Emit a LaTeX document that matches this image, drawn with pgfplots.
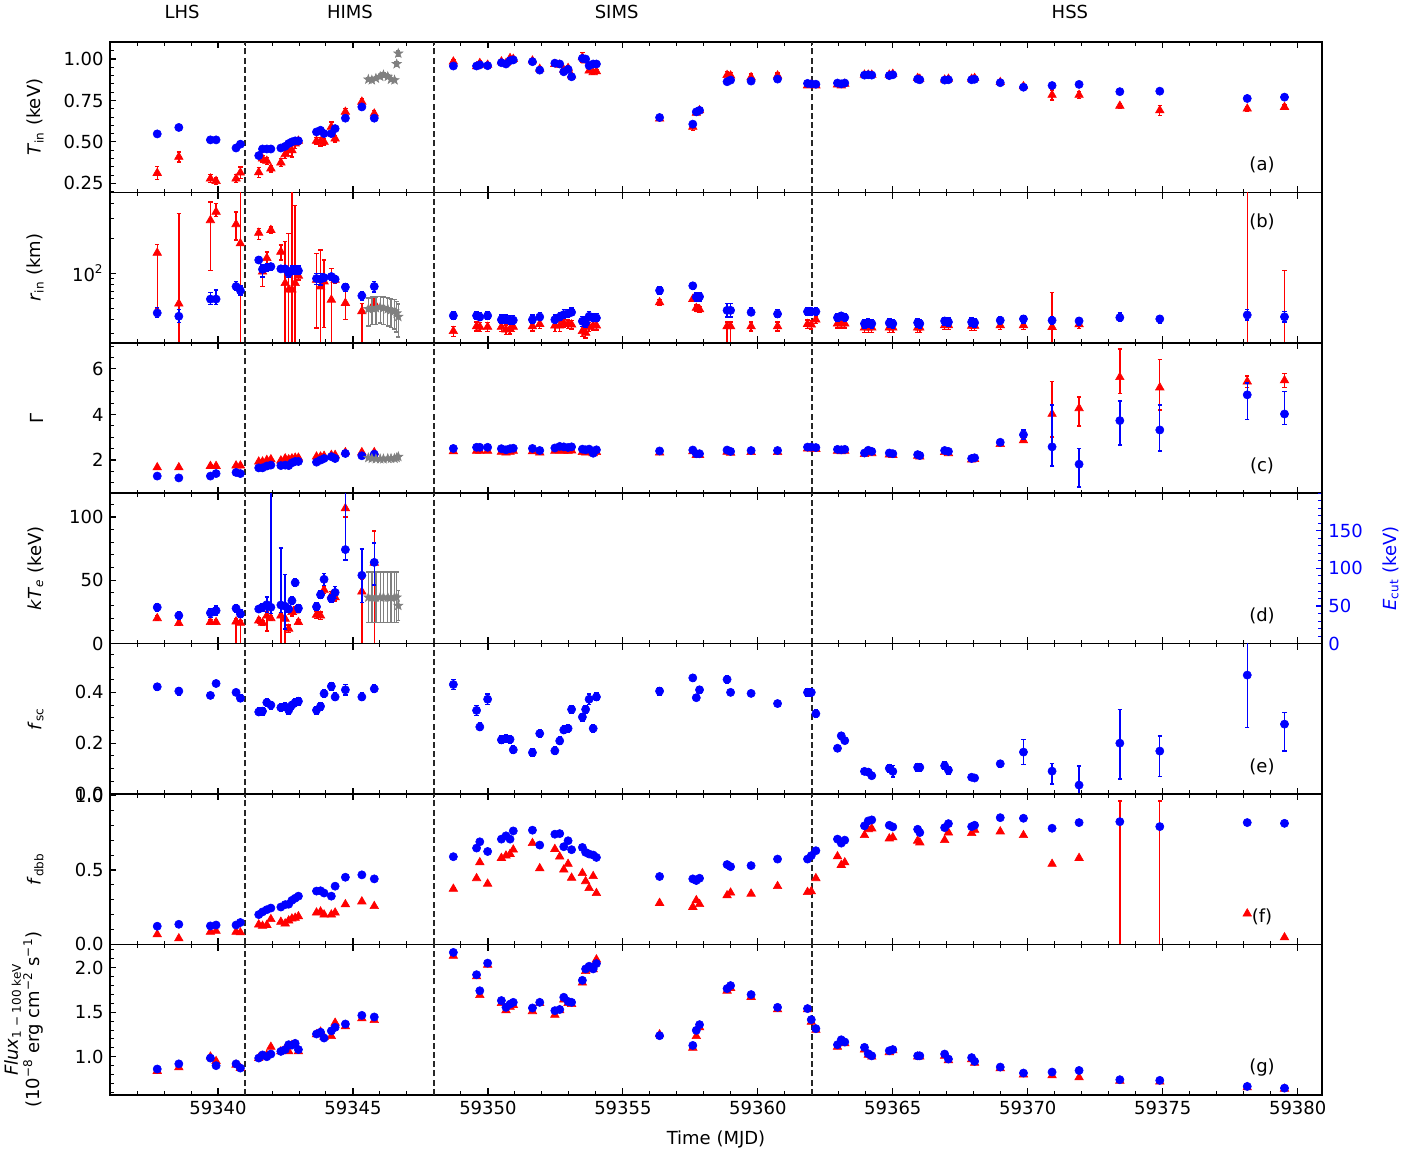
\documentclass[border=0pt]{standalone}
\usepackage{fontspec}
\setmainfont{DejaVu Sans}
\usepackage{pgfplots}
\usepackage{pgfplotstable}
\pgfplotsset{compat=1.18}

\pgfdeclareplotmark{fstar}{%
  \pgfpathmoveto{\pgfpointpolar{90}{\pgfplotmarksize}}%
  \pgfpathlineto{\pgfpointpolar{126}{0.4*\pgfplotmarksize}}%
  \pgfpathlineto{\pgfpointpolar{162}{\pgfplotmarksize}}%
  \pgfpathlineto{\pgfpointpolar{198}{0.4*\pgfplotmarksize}}%
  \pgfpathlineto{\pgfpointpolar{234}{\pgfplotmarksize}}%
  \pgfpathlineto{\pgfpointpolar{270}{0.4*\pgfplotmarksize}}%
  \pgfpathlineto{\pgfpointpolar{306}{\pgfplotmarksize}}%
  \pgfpathlineto{\pgfpointpolar{342}{0.4*\pgfplotmarksize}}%
  \pgfpathlineto{\pgfpointpolar{18}{\pgfplotmarksize}}%
  \pgfpathlineto{\pgfpointpolar{54}{0.4*\pgfplotmarksize}}%
  \pgfpathclose
  \pgfusepathqfillstroke}

% blue: t a ae b bp bm c cp cm d dp dm e ep em f fe g ge
\pgfplotstableread{
t a ae b bp bm c cp cm d dp dm e ep em f fe g ge
59337.75 0.548 0.010 45.3 5 4 1.30 0.06 0.06 48.3 5 5 0.422 0.012 0.012 0.122 0.008 0.862 0.010
59338.55 0.587 0.010 42.4 6 5 1.22 0.06 0.06 37.3 5 5 0.405 0.015 0.015 0.135 0.008 0.920 0.010
59339.72 0.512 0.008 59.7 8 6 1.30 0.06 0.06 40.8 6 6 0.388 0.012 0.012 0.124 0.008 0.985 0.010
59339.93 0.512 0.008 59.7 12 6 1.41 0.06 0.06 43.9 6 6 0.435 0.012 0.012 0.130 0.008 0.900 0.010
59340.67 0.463 0.008 76.7 8 6 1.46 0.06 0.06 46.9 5 5 0.400 0.012 0.012 0.130 0.008 0.920 0.010
59340.83 0.486 0.008 70.8 7 6 1.41 0.06 0.06 39.5 5 5 0.377 0.012 0.012 0.147 0.008 0.873 0.010
59341.51 0.417 0.008 130 8 8 1.66 0.06 0.06 46.0 5 5 0.323 0.015 0.015 0.200 0.008 0.985 0.010
59341.65 0.457 0.008 108 10 15 1.66 0.06 0.06 48.3 5 5 0.326 0.015 0.015 0.218 0.008 1.020 0.010
59341.81 0.457 0.008 112 8 8 1.74 0.06 0.06 51.7 10 10 0.360 0.015 0.015 0.233 0.008 1.000 0.010
59341.96 0.457 0.008 114 8 8 1.78 0.06 0.06 48.3 200 8 0.350 0.015 0.015 0.244 0.008 1.030 0.010
59342.33 0.463 0.008 109 6 6 1.76 0.06 0.06 51.3 76 10 0.340 0.015 0.015 0.251 0.008 1.060 0.010
59342.49 0.473 0.008 109 6 6 1.78 0.06 0.06 49.6 42 30 0.343 0.015 0.015 0.267 0.008 1.080 0.010
59342.62 0.490 0.008 100 8 8 1.76 0.06 0.06 46.0 5 5 0.330 0.015 0.015 0.270 0.008 1.135 0.010
59342.74 0.500 0.008 105 10 8 1.88 0.06 0.06 57.0 5 5 0.350 0.015 0.015 0.296 0.008 1.130 0.010
59342.86 0.506 0.008 105 10 8 1.94 0.06 0.06 81.0 5 5 0.360 0.015 0.015 0.310 0.008 1.150 0.010
59342.98 0.506 0.008 105 10 8 1.94 0.06 0.06 47.0 5 5 0.365 0.015 0.015 0.324 0.008 1.080 0.010
59343.65 0.560 0.010 89.9 10 10 1.91 0.06 0.06 49.0 5 5 0.330 0.015 0.015 0.358 0.008 1.255 0.010
59343.80 0.570 0.010 88.8 10 10 2.00 0.06 0.06 65.0 5 5 0.345 0.015 0.015 0.360 0.008 1.275 0.010
59343.93 0.550 0.010 91.7 6 6 2.07 0.06 0.06 85.5 8 8 0.395 0.015 0.015 0.345 0.008 1.210 0.010
59344.20 0.550 0.010 93.5 6 6 2.15 0.06 0.06 60.0 5 5 0.424 0.015 0.015 0.324 0.008 1.290 0.010
59344.34 0.580 0.010 88.8 6 6 2.07 0.06 0.06 68.0 8 8 0.382 0.015 0.015 0.391 0.008 1.330 0.010
59344.72 0.643 0.010 75.8 6 6 2.29 0.06 0.06 125 80 14 0.410 0.020 0.020 0.451 0.008 1.367 0.010
59345.33 0.711 0.010 63.8 5 5 2.19 0.06 0.06 90.8 35 36 0.382 0.015 0.015 0.467 0.008 1.464 0.010
59345.79 0.643 0.010 76.7 8 8 2.26 0.06 0.06 108 26 30 0.414 0.015 0.015 0.440 0.008 1.446 0.010
59348.72 0.958 0.012 42.9 4 3 2.51 0.06 0.06 nan 0 0 0.431 0.020 0.020 0.589 0.008 2.170 0.010
59349.58 0.958 0.012 42.9 4 3 2.56 0.06 0.06 nan 0 0 0.329 0.020 0.020 0.647 0.008 1.920 0.010
59349.70 0.965 0.012 41.8 4 3 2.56 0.06 0.06 nan 0 0 0.264 0.015 0.015 0.689 0.008 1.740 0.010
59349.99 0.960 0.012 42.9 4 3 2.56 0.06 0.06 nan 0 0 0.373 0.020 0.020 0.624 0.008 2.050 0.010
59350.50 0.978 0.012 39.6 4 3 2.50 0.06 0.06 nan 0 0 0.213 0.015 0.015 0.707 0.008 1.630 0.010
59350.67 0.970 0.012 39.6 4 3 2.45 0.06 0.06 nan 0 0 0.218 0.015 0.015 0.729 0.008 1.554 0.010
59350.82 0.990 0.012 39.2 4 3 2.50 0.06 0.06 nan 0 0 0.215 0.015 0.015 0.707 0.008 1.590 0.010
59350.94 0.995 0.012 39.2 4 3 2.52 0.06 0.06 nan 0 0 0.174 0.015 0.015 0.762 0.008 1.610 0.010
59351.65 0.984 0.012 39.6 4 3 2.51 0.06 0.06 nan 0 0 0.163 0.015 0.015 0.767 0.008 1.547 0.010
59351.92 0.933 0.012 41.8 4 3 2.42 0.06 0.06 nan 0 0 0.238 0.015 0.015 0.667 0.008 1.610 0.010
59352.48 0.975 0.012 39.6 4 3 2.53 0.06 0.06 nan 0 0 0.170 0.015 0.015 0.740 0.008 1.517 0.010
59352.66 0.970 0.012 41.8 4 3 2.60 0.06 0.06 nan 0 0 0.209 0.015 0.015 0.744 0.008 1.530 0.010
59352.81 0.923 0.012 43.8 5 3 2.58 0.06 0.06 nan 0 0 0.252 0.015 0.015 0.656 0.008 1.667 0.010
59352.97 0.938 0.012 44.7 4 3 2.55 0.06 0.06 nan 0 0 0.258 0.015 0.015 0.696 0.008 1.620 0.010
59353.10 0.893 0.012 45.9 4 3 2.58 0.06 0.06 nan 0 0 0.333 0.015 0.015 0.636 0.008 1.610 0.010
59353.50 1.004 0.015 38.4 4 4 2.48 0.06 0.06 nan 0 0 0.303 0.015 0.015 0.651 0.008 1.857 0.010
59353.62 1.000 0.012 37.1 4 3 2.45 0.06 0.06 nan 0 0 0.333 0.015 0.015 0.618 0.008 1.985 0.010
59353.75 0.960 0.012 42.4 4 3 2.48 0.06 0.06 nan 0 0 0.373 0.020 0.020 0.607 0.008 2.015 0.010
59353.90 0.970 0.012 41.0 4 3 2.30 0.06 0.06 nan 0 0 0.258 0.015 0.015 0.600 0.008 1.985 0.010
59354.02 0.970 0.012 41.0 4 3 2.45 0.06 0.06 nan 0 0 0.382 0.015 0.015 0.584 0.008 2.045 0.010
59356.36 0.647 0.010 70.9 5 5 2.40 0.06 0.06 nan 0 0 0.405 0.015 0.015 0.456 0.008 1.236 0.010
59357.59 0.607 0.012 77.8 5 5 2.44 0.06 0.06 nan 0 0 0.457 0.012 0.012 0.440 0.008 1.127 0.010
59357.72 0.681 0.010 62.2 5 5 2.28 0.06 0.06 nan 0 0 0.379 0.012 0.012 0.429 0.008 1.296 0.010
59357.84 0.690 0.010 62.6 5 5 2.28 0.06 0.06 nan 0 0 0.410 0.012 0.012 0.444 0.008 1.360 0.010
59358.86 0.863 0.010 47.7 7 6 2.44 0.06 0.06 nan 0 0 0.451 0.015 0.015 0.536 0.008 1.764 0.010
59358.99 0.873 0.010 47.7 7 6 2.38 0.06 0.06 nan 0 0 0.400 0.012 0.012 0.522 0.008 1.798 0.010
59359.75 0.867 0.010 45.9 4 3 2.42 0.06 0.06 nan 0 0 0.396 0.012 0.012 0.529 0.008 1.697 0.010
59360.73 0.879 0.010 44.4 4 3 2.42 0.06 0.06 nan 0 0 0.356 0.012 0.012 0.573 0.008 1.554 0.010
59361.84 0.853 0.010 46.5 4 3 2.57 0.06 0.06 nan 0 0 0.400 0.015 0.015 0.573 0.008 1.540 0.010
59361.98 0.850 0.010 46.5 4 3 2.57 0.06 0.06 nan 0 0 0.400 0.015 0.015 0.596 0.008 1.416 0.010
59362.15 0.848 0.010 46.5 4 3 2.55 0.06 0.06 nan 0 0 0.316 0.015 0.015 0.629 0.008 1.315 0.010
59362.95 0.855 0.008 41.3 3 3 2.47 0.06 0.06 nan 0 0 0.180 0.010 0.010 0.707 0.008 1.135 0.010
59363.09 0.850 0.008 42.7 3 3 2.45 0.06 0.06 nan 0 0 0.229 0.012 0.012 0.680 0.008 1.190 0.010
59363.22 0.855 0.008 41.3 3 3 2.47 0.06 0.06 nan 0 0 0.210 0.012 0.012 0.700 0.008 1.165 0.010
59363.95 0.903 0.008 36.6 3 3 2.31 0.06 0.06 nan 0 0 0.089 0.012 0.012 0.796 0.008 1.105 0.010
59364.09 0.905 0.008 37.3 3 3 2.43 0.06 0.06 nan 0 0 0.086 0.012 0.012 0.829 0.008 1.034 0.010
59364.22 0.903 0.008 36.6 3 3 2.38 0.06 0.06 nan 0 0 0.072 0.012 0.012 0.836 0.008 1.010 0.010
59364.87 0.900 0.008 37.1 3 3 2.31 0.06 0.06 nan 0 0 0.101 0.015 0.015 0.800 0.008 1.067 0.010
59365.00 0.905 0.008 36.6 3 3 2.28 0.06 0.06 nan 0 0 0.089 0.022 0.022 0.789 0.008 1.080 0.010
59365.92 0.879 0.008 37.3 3 3 2.24 0.06 0.06 nan 0 0 0.105 0.015 0.015 0.773 0.008 1.010 0.010
59366.00 0.875 0.008 36.6 3 3 2.20 0.06 0.06 nan 0 0 0.105 0.015 0.015 0.751 0.008 1.010 0.010
59366.92 0.873 0.008 38.6 3 3 2.42 0.06 0.06 nan 0 0 0.111 0.015 0.015 0.784 0.008 1.030 0.010
59367.06 0.875 0.008 37.8 3 3 2.38 0.06 0.06 nan 0 0 0.094 0.015 0.015 0.811 0.008 0.974 0.010
59367.92 0.875 0.008 37.8 3 3 2.07 0.06 0.06 nan 0 0 0.066 0.010 0.010 0.791 0.008 0.990 0.010
59368.03 0.878 0.008 37.3 3 3 2.10 0.06 0.06 nan 0 0 0.063 0.010 0.010 0.800 0.008 0.948 0.010
59368.98 0.857 0.008 39.1 3 3 2.78 0.10 0.10 nan 0 0 0.119 0.012 0.012 0.851 0.008 0.884 0.010
59369.84 0.830 0.008 40.2 3 3 3.11 0.20 0.20 nan 0 0 0.165 0.050 0.050 0.847 0.008 0.817 0.010
59370.90 0.840 0.008 39.1 3 3 2.58 1.84 0.84 nan 0 0 0.090 0.030 0.050 0.780 0.008 0.828 0.010
59371.90 0.847 0.008 38.6 3 3 1.82 0.69 0.99 nan 0 0 0.035 0.075 0.035 0.818 0.008 0.846 0.010
59373.41 0.803 0.008 41.3 4 3 3.73 0.86 1.07 nan 0 0 0.200 0.133 0.141 0.824 0.008 0.742 0.010
59374.89 0.806 0.008 40.2 3 3 3.32 1.10 0.92 nan 0 0 0.169 0.060 0.100 0.791 0.008 0.735 0.010
59378.13 0.762 0.008 43.5 5 4 4.86 0.51 1.07 nan 0 0 0.468 0.130 0.207 0.818 0.008 0.667 0.010
59379.51 0.770 0.008 41.9 5 4 4.02 0.98 0.45 nan 0 0 0.275 0.045 0.105 0.813 0.008 0.648 0.010
}\blueT

% red: t a ae b bp bm c cp cm d dp dm f fe g ge
\pgfplotstableread{
t a ae b bp bm c cp cm d dp dm f fe g ge
59337.75 0.312 0.040 150 28 100 1.68 0.05 0.05 20.0 2 2 0.067 0.005 0.840 0.010
59338.55 0.409 0.030 54.5 274 44.5 1.68 0.05 0.05 16.1 2 2 0.040 0.005 0.880 0.010
59339.72 0.278 0.025 287 126 182 1.74 0.05 0.05 16.9 2 2 0.084 0.005 1.000 0.010
59339.93 0.263 0.020 339 63 30 1.74 0.05 0.05 16.9 2 2 0.090 0.005 0.950 0.010
59340.67 0.278 0.025 265 74 72 1.76 0.05 0.05 17.4 2 17.4 0.084 0.005 0.910 0.010
59340.83 0.314 0.035 181 800 171 1.76 0.05 0.05 16.4 2 16.4 0.080 0.005 0.873 0.010
59341.51 0.316 0.030 223 21 27 1.93 0.05 0.05 18.2 2 2 0.133 0.005 0.985 0.010
59341.65 0.399 0.020 103 7 26 1.93 0.05 0.05 16.4 2 2 0.124 0.005 1.000 0.010
59341.81 0.385 0.020 135 18 17 2.00 0.05 0.05 22.0 3 12 0.130 0.005 1.020 0.010
59341.96 0.339 0.020 236 14 14 2.03 0.05 0.05 20.0 2 2 0.169 0.005 1.110 0.010
59342.33 0.375 0.025 153 22 23 1.98 0.05 0.05 22.0 2 22 0.151 0.005 1.060 0.010
59342.49 0.425 0.025 82 105 72 2.07 0.05 0.05 19.5 2 19.5 0.140 0.005 1.090 0.010
59342.62 0.449 0.030 72 149 62 2.03 0.05 0.05 11.7 3 3 0.160 0.005 1.060 0.010
59342.74 0.449 0.040 72 600 62 2.07 0.05 0.05 24.8 3 3 0.173 0.005 1.130 0.010
59342.86 0.490 0.030 82 304 72 2.10 0.05 0.05 26.0 3 3 0.178 0.005 1.140 0.010
59342.98 0.506 0.020 95 8 8 2.10 0.05 0.05 16.9 2 2 0.188 0.005 1.060 0.010
59343.65 0.506 0.020 87.5 61 54 2.15 0.05 0.05 22.7 3 3 0.213 0.005 1.250 0.010
59343.80 0.500 0.025 76.7 82 66.7 2.15 0.05 0.05 22.0 3 3 0.220 0.005 1.280 0.010
59343.93 0.500 0.020 84.7 45 51 2.18 0.05 0.05 42.4 3 3 0.200 0.005 1.220 0.010
59344.20 0.590 0.030 58.9 51 48.9 2.22 0.05 0.05 38.0 3 3 0.200 0.005 1.230 0.010
59344.34 0.520 0.020 87.5 5 5 2.22 0.05 0.05 36.5 3 3 0.213 0.005 1.380 0.010
59344.72 0.681 0.020 55.2 14 15.6 2.34 0.05 0.05 106.8 15 7 0.269 0.005 1.340 0.010
59345.33 0.742 0.020 46.8 8 36.8 2.34 0.05 0.05 41.0 10 41 0.288 0.005 1.430 0.010
59345.79 0.670 0.020 55.2 5 5 2.34 0.05 0.05 63.8 25 63.8 0.257 0.005 1.410 0.010
59348.72 0.984 0.015 31.5 3 3 2.38 0.05 0.05 nan 0 0 0.373 0.005 2.130 0.010
59349.58 0.955 0.012 34.7 3 3 2.40 0.05 0.05 nan 0 0 0.444 0.005 1.900 0.010
59349.70 0.975 0.012 34.3 3 3 2.40 0.05 0.05 nan 0 0 0.551 0.005 1.690 0.010
59349.99 0.965 0.012 34.3 3 3 2.40 0.05 0.05 nan 0 0 0.407 0.005 2.030 0.010
59350.50 0.985 0.012 34.3 3 3 2.36 0.05 0.05 nan 0 0 0.580 0.005 1.600 0.010
59350.67 0.975 0.012 32.5 3 3 2.33 0.05 0.05 nan 0 0 0.596 0.005 1.520 0.010
59350.82 1.005 0.012 32.9 3 3 2.36 0.05 0.05 nan 0 0 0.607 0.005 1.560 0.010
59350.94 1.000 0.012 34.3 3 3 2.40 0.05 0.05 nan 0 0 0.636 0.005 1.580 0.010
59351.65 0.990 0.012 34.7 3 3 2.38 0.05 0.05 nan 0 0 0.680 0.005 1.510 0.010
59351.92 0.940 0.012 36.3 3 3 2.33 0.05 0.05 nan 0 0 0.511 0.005 1.600 0.010
59352.48 0.970 0.012 35.2 3 4 2.40 0.05 0.05 nan 0 0 0.640 0.005 1.470 0.010
59352.66 0.965 0.012 35.2 3 4 2.42 0.05 0.05 nan 0 0 0.589 0.005 1.520 0.010
59352.81 0.935 0.012 37.1 3 3 2.40 0.05 0.05 nan 0 0 0.502 0.005 1.640 0.010
59352.97 0.945 0.012 36.3 3 3 2.40 0.05 0.05 nan 0 0 0.540 0.005 1.600 0.010
59353.10 0.900 0.012 35.9 3 3 2.42 0.05 0.05 nan 0 0 0.447 0.005 1.590 0.010
59353.50 1.010 0.030 31.5 3 3 2.35 0.05 0.05 nan 0 0 0.478 0.005 1.830 0.010
59353.62 0.990 0.012 30.5 3 3 2.33 0.05 0.05 nan 0 0 0.424 0.005 1.960 0.010
59353.75 0.930 0.012 34.3 3 3 2.35 0.05 0.05 nan 0 0 0.378 0.005 1.990 0.010
59353.90 0.920 0.012 35.2 3 3 2.30 0.05 0.05 nan 0 0 0.458 0.005 1.980 0.010
59354.02 0.925 0.012 35.2 3 3 2.35 0.05 0.05 nan 0 0 0.344 0.005 2.090 0.010
59356.36 0.640 0.010 55.9 3 3 2.33 0.05 0.05 nan 0 0 0.278 0.005 1.250 0.010
59357.59 0.590 0.020 59.7 3 3 2.38 0.05 0.05 nan 0 0 0.251 0.005 1.100 0.010
59357.72 0.675 0.010 50.0 3 3 2.22 0.05 0.05 nan 0 0 0.296 0.005 1.230 0.010
59357.84 0.690 0.010 48.7 3 3 2.22 0.05 0.05 nan 0 0 0.270 0.005 1.330 0.010
59358.86 0.903 0.020 34.7 3 24.7 2.36 0.05 0.05 nan 0 0 0.329 0.005 1.740 0.010
59358.99 0.900 0.020 34.7 3 24.7 2.32 0.05 0.05 nan 0 0 0.347 0.005 1.770 0.010
59359.75 0.890 0.020 34.7 3 3 2.35 0.05 0.05 nan 0 0 0.340 0.005 1.670 0.010
59360.73 0.900 0.015 34.7 3 3 2.35 0.05 0.05 nan 0 0 0.391 0.005 1.530 0.010
59361.84 0.840 0.010 36.3 3 3 2.50 0.05 0.05 nan 0 0 0.351 0.005 1.530 0.010
59361.98 0.845 0.010 35.9 3 3 2.50 0.05 0.05 nan 0 0 0.356 0.005 1.390 0.010
59362.15 0.840 0.010 39.6 3 3 2.48 0.05 0.05 nan 0 0 0.444 0.005 1.300 0.010
59362.95 0.845 0.010 36.6 3 3 2.40 0.05 0.05 nan 0 0 0.591 0.005 1.110 0.010
59363.09 0.840 0.010 36.6 3 3 2.38 0.05 0.05 nan 0 0 0.533 0.005 1.170 0.010
59363.22 0.850 0.010 36.6 3 3 2.40 0.05 0.05 nan 0 0 0.550 0.005 1.150 0.010
59363.95 0.905 0.010 33.8 3 3 2.26 0.05 0.05 nan 0 0 0.733 0.005 1.080 0.010
59364.09 0.905 0.010 33.8 3 3 2.36 0.05 0.05 nan 0 0 0.773 0.005 1.020 0.010
59364.22 0.905 0.010 33.8 3 3 2.30 0.05 0.05 nan 0 0 0.778 0.005 1.000 0.010
59364.87 0.905 0.010 33.8 3 3 2.24 0.05 0.05 nan 0 0 0.711 0.005 1.050 0.010
59365.00 0.910 0.010 33.8 3 3 2.22 0.05 0.05 nan 0 0 0.718 0.005 1.070 0.010
59365.92 0.885 0.010 33.8 3 3 2.18 0.05 0.05 nan 0 0 0.696 0.005 1.000 0.010
59366.00 0.880 0.010 33.8 3 3 2.15 0.05 0.05 nan 0 0 0.684 0.005 1.000 0.010
59366.92 0.875 0.010 35.4 3 3 2.35 0.05 0.05 nan 0 0 0.700 0.005 1.010 0.010
59367.06 0.880 0.010 35.4 3 3 2.30 0.05 0.05 nan 0 0 0.751 0.005 0.960 0.010
59367.92 0.880 0.010 35.0 3 3 2.02 0.05 0.05 nan 0 0 0.747 0.005 0.970 0.010
59368.03 0.885 0.010 35.0 3 3 2.04 0.05 0.05 nan 0 0 0.769 0.005 0.930 0.010
59368.98 0.860 0.010 35.4 3 3 2.70 0.08 0.08 nan 0 0 0.758 0.005 0.870 0.010
59369.84 0.835 0.010 35.4 3 3 2.86 0.10 0.10 nan 0 0 0.733 0.005 0.800 0.010
59370.90 0.783 0.030 34.2 34 24.2 4.02 1.42 1.00 nan 0 0 0.540 0.005 0.790 0.010
59371.90 0.783 0.020 36.1 3 3 4.27 0.49 0.78 nan 0 0 0.580 0.005 0.768 0.010
59373.41 0.717 0.015 nan 0 0 5.63 1.24 0.70 nan 0 0 nan 0 0.730 0.010
59374.89 0.690 0.030 nan 0 0 5.18 1.22 0.98 nan 0 0 nan 0 0.720 0.010
59378.13 0.700 0.015 nan 0 0 5.44 0.25 0.25 nan 0 0 0.207 0.005 0.655 0.010
59379.51 0.710 0.015 nan 0 0 5.49 0.30 0.30 nan 0 0 0.047 0.005 0.640 0.010
}\redT

% gray: t a ae b bp bm c ce d de
\pgfplotstableread{
t a ae b bp bm c ce d de
59345.57 0.877 0.010 49 12 14 2.10 0.05 36.5 20
59345.70 0.873 0.010 50 12 14 2.07 0.05 36.5 20
59345.85 0.883 0.010 50 12 14 2.05 0.05 36.5 20
59346.01 0.894 0.012 51 12 14 2.05 0.05 36.5 20
59346.13 0.904 0.012 50 12 14 2.05 0.05 36.5 20
59346.29 0.894 0.010 49 12 14 2.07 0.05 36.5 20
59346.41 0.877 0.010 48 12 14 2.07 0.05 36.5 20
59346.54 0.873 0.010 47 12 14 2.07 0.05 36.5 20
59346.62 0.970 0.015 45 12 14 2.10 0.05 36.5 20
59346.68 1.034 0.015 42 12 14 2.15 0.05 30.0 12
}\grayT

\pgfplotsset{
  errb/.style={error bars/y dir=both, error bars/y explicit,
    error bars/error bar style={line width=0.7pt,#1},
    error bars/error mark options={rotate=90,mark size=1.1pt,line width=0.7pt,#1}},
  bl/.style={only marks, mark=*, mark size=2.05pt, color=blue,
    mark options={solid, fill=blue, draw=blue, line width=0.3pt}, errb=blue},
  rd/.style={only marks, mark=triangle*, mark size=2.45pt, color=red,
    mark options={solid, fill=red, draw=red, line width=0.3pt}, errb=red},
  gy/.style={only marks, mark=fstar, mark size=2.4pt, color=gray,
    mark options={solid, fill=gray, draw=gray, line width=0.3pt}, errb=gray},
  vbar/.style={draw=#1, color=#1, line width=0.7pt, mark=-, mark size=1.1pt,
    mark options={draw=#1, rotate=0}},
  pan/.style={
    scale only axis, width=606pt, height=75.2pt,
    xmin=59336.0, xmax=59380.9,
    scaled x ticks=false, scaled y ticks=false,
    xtick={59340,59345,59350,59355,59360,59365,59370,59375,59380},
    minor xtick={59336,59337,59338,59339,59341,59342,59343,59344,59346,59347,59348,59349,59351,59352,59353,59354,59356,59357,59358,59359,59361,59362,59363,59364,59366,59367,59368,59369,59371,59372,59373,59374,59376,59377,59378,59379},
    xticklabels={},
    xtick pos=both, ytick pos=left,
    tick align=inside,
    major tick length=3.2pt, minor tick length=1.8pt,
    tick style={black, line width=0.6pt},
    minor tick style={black, line width=0.45pt},
    axis line style={line width=0.75pt},
    extra x ticks={59341,59348,59362},
    extra x tick labels={},
    extra x tick style={grid=major, major tick length=0pt,
      major grid style={black!85, line width=0.7pt, dash pattern=on 3pt off 1.6pt}},
    clip mode=individual,
    clip marker paths=true,
    every axis y label/.style={at={(axis description cs:-0.0495,0.5)}, anchor=south, rotate=90, align=center},
  },
}

\begin{document}
\fontsize{9}{11}\selectfont
\begin{tikzpicture}
\path[use as bounding box] (-55pt,-30.5pt) rectangle (656pt,547.4pt);

% (a)
\begin{axis}[pan, at={(0,451.2pt)}, ymin=0.195, ymax=1.103,
  ytick={0.25,0.5,0.75,1}, yticklabels={0.25,0.50,0.75,1.00},
  minor ytick={0.2,0.25,...,1.1},
  ylabel={\textit{T}\textsubscript{in} (keV)}]
\addplot[rd] table[x=t,y=a,y error=ae] {\redT};
\addplot[bl] table[x=t,y=a,y error=ae] {\blueT};
\addplot[gy] table[x=t,y=a,y error=ae] {\grayT};
\node at (rel axis cs:0.9505,0.18) {(a)};
\node at (rel axis cs:0.0594,1.2) {LHS};
\node at (rel axis cs:0.198,1.2) {HIMS};
\node at (rel axis cs:0.418,1.2) {SIMS};
\node at (rel axis cs:0.792,1.2) {HSS};
\end{axis}

% (b)
\begin{axis}[pan, at={(0,376pt)}, ymode=log, ymin=25, ymax=500,
  ytick={100}, yticklabels={10\textsuperscript{2}},
  minor ytick={30,40,50,60,70,80,90,200,300,400},
  ylabel={\textit{r}\textsubscript{in} (km)}]
\addplot[rd] table[x=t,y=b,y error plus=bp,y error minus=bm] {\redT};
\addplot[vbar=red] coordinates {(59378.13,10) (59378.13,1000)};
\addplot[vbar=red] coordinates {(59379.51,10) (59379.51,106)};
\addplot[bl] table[x=t,y=b,y error plus=bp,y error minus=bm] {\blueT};
\addplot[gy] table[x=t,y=b,y error plus=bp,y error minus=bm] {\grayT};
\node at (rel axis cs:0.9505,0.805) {(b)};
\end{axis}

% (c)
\begin{axis}[pan, at={(0,300.8pt)}, ymin=0.55, ymax=7.14,
  ytick={2,4,6}, yticklabels={2,4,6},
  minor ytick={1,1.5,...,7},
  ylabel={Γ}]
\addplot[rd] table[x=t,y=c,y error plus=cp,y error minus=cm] {\redT};
\addplot[bl] table[x=t,y=c,y error plus=cp,y error minus=cm] {\blueT};
\addplot[gy] table[x=t,y=c,y error=ce] {\grayT};
\node at (rel axis cs:0.9505,0.18) {(c)};
\end{axis}

% (d) left
\begin{axis}[pan, at={(0,225.6pt)}, ymin=0, ymax=118.75,
  ytick={0,50,100}, yticklabels={0,50,100},
  minor ytick={0,10,...,110},
  ylabel={\textit{kT}\textsubscript{\textit{e}} (keV)}]
\addplot[rd] table[x=t,y=d,y error plus=dp,y error minus=dm] {\redT};
\addplot[gy] table[x=t,y=d,y error=de] {\grayT};
\node at (rel axis cs:0.9505,0.186) {(d)};
\end{axis}
% (d) right
\begin{axis}[scale only axis, width=606pt, height=75.2pt, at={(0,225.6pt)},
  xmin=59336.0, xmax=59380.9, ymin=0, ymax=200,
  scaled x ticks=false, scaled y ticks=false,
  axis x line=none, axis y line=right,
  axis line style={-, line width=0.75pt},
  ytick={0,50,100,150}, yticklabels={0,50,100,150},
  minor ytick={0,10,...,200},
  ytick pos=right, yticklabel pos=right,
  tick align=inside,
  major tick length=3.2pt, minor tick length=1.8pt,
  tick style={blue, line width=0.6pt},
  minor tick style={blue, line width=0.45pt},
  yticklabel style={blue},
  clip mode=individual, clip marker paths=true,
  every axis y label/.style={at={(axis description cs:1.0446,0.5)}, anchor=north, rotate=90},
  ylabel={\textcolor{blue}{\textit{E}\textsubscript{cut} (keV)}}]
\addplot[bl] table[x=t,y=d,y error plus=dp,y error minus=dm] {\blueT};
\end{axis}

% (e)
\begin{axis}[pan, at={(0,150.4pt)}, ymin=0, ymax=0.592,
  ytick={0,0.2,0.4}, yticklabels={0.0,0.2,0.4},
  minor ytick={0,0.05,...,0.56},
  ylabel={\textit{f}\textsubscript{sc}}]
\addplot[bl] table[x=t,y=e,y error plus=ep,y error minus=em] {\blueT};
\node at (rel axis cs:0.9505,0.18) {(e)};
\end{axis}

% (f)
\begin{axis}[pan, at={(0,75.2pt)}, ymin=0, ymax=1.01,
  ytick={0,0.5,1}, yticklabels={0.0,0.5,1.0},
  minor ytick={0,0.1,...,1.0},
  ylabel={\textit{f}\textsubscript{dbb}}]
\addplot[rd] table[x=t,y=f,y error=fe] {\redT};
\addplot[vbar=red] coordinates {(59373.41,0) (59373.41,0.962)};
\addplot[vbar=red] coordinates {(59374.89,0) (59374.89,0.962)};
\addplot[bl] table[x=t,y=f,y error=fe] {\blueT};
\node at (rel axis cs:0.9505,0.186) {(f)};
\end{axis}

% (g)
\begin{axis}[pan, at={(0,0pt)}, ymin=0.573, ymax=2.26,
  ytick={1,1.5,2}, yticklabels={1.0,1.5,2.0},
  minor ytick={0.6,0.7,...,2.25},
  xticklabels={59340,59345,59350,59355,59360,59365,59370,59375,59380},
  every axis x label/.style={at={(axis description cs:0.5,-0.3)}, anchor=center},
  xlabel={Time (MJD)},
  ylabel={\textit{Flux}\textsubscript{1 − 100 keV}\\(10\textsuperscript{−8} erg cm\textsuperscript{−2} s\textsuperscript{−1})}]
\addplot[rd] table[x=t,y=g,y error=ge] {\redT};
\addplot[bl] table[x=t,y=g,y error=ge] {\blueT};
\node at (rel axis cs:0.9505,0.18) {(g)};
\end{axis}
\end{tikzpicture}
\end{document}
